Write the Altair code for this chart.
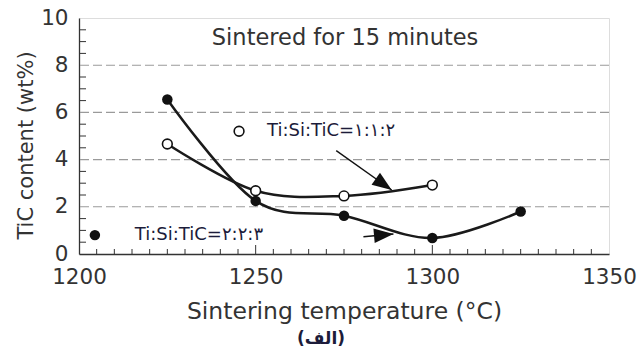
import altair as alt
import pandas as pd

# ---- data ----
temps_open = [1225, 1250, 1275, 1300]
tic_open = [4.66, 2.68, 2.46, 2.92]
temps_filled = [1225, 1250, 1275, 1300, 1325]
tic_filled = [6.55, 2.25, 1.62, 0.68, 1.80]

x_tick_labels = [1200, 1250, 1300, 1350]
y_tick_labels = [0, 2, 4, 6, 8, 10]
grid_values = [2, 4, 6, 8]
x_minor = [v for v in range(1205, 1350, 5) if v % 50 != 0]
x_major = [1250, 1300]
y_minor = [i * 0.5 for i in range(1, 20) if i % 4 != 0]

title_text = "Sintered for 15 minutes"
label_open = "Ti:Si:TiC=\u0661:\u0661:\u0662"
label_filled = "Ti:Si:TiC=\u0662:\u0662:\u0663"
x_title = "Sintering temperature (°C)"
y_title = "TiC content (wt%)"
caption = "(الف)"

# legend marker / text anchors and arrows (data units)
legend_open = (1245.3, 5.2)
legend_filled = (1204.5, 0.8)
text_open = (1253.2, 5.2)
text_filled = (1215.8, 0.8)
arrows_x = [1272.8, 1280.5]
arrows_y = [4.38, 0.73]
arrows_x2 = [1288.5, 1289.0]
arrows_y2 = [2.71, 0.85]
arrows_angle = [125.2, 84.9]
title_pos = (1275.3, 8.86)

W, H = 530, 236
FONT = "DejaVu Sans"
TXT = "#333333"
ANN = "#1c1c3a"

xs = alt.Scale(domain=[1200, 1350], nice=False, zero=False)
ys = alt.Scale(domain=[0, 10], nice=False, zero=True)

x_axis = alt.Axis(values=x_tick_labels, format="d", title=x_title, ticks=False, tickSize=0,
                  grid=False, labelPadding=12, labelFontSize=21.5, labelFont=FONT,
                  labelColor=TXT, titleFont=FONT, titleFontSize=23.5,
                  titleFontWeight="normal", titleColor=TXT, titleY=45,
                  domainColor="#333333", domainWidth=1.3, labelFlush=False)
y_axis = alt.Axis(values=y_tick_labels, format="d", title=y_title, ticks=False, tickSize=0,
                  grid=False, labelPadding=11, labelFontSize=21.5, labelFont=FONT,
                  labelColor=TXT, titleFont=FONT, titleFontSize=21,
                  titleFontWeight="normal", titleColor=TXT, titleX=-42.5,
                  titleY=127, domainColor="#333333", domainWidth=1.3)

X = lambda f="T": alt.X(f + ":Q", scale=xs, axis=x_axis)
Y = lambda f="C": alt.Y(f + ":Q", scale=ys, axis=y_axis)

series = pd.DataFrame({
    "T": temps_open + temps_filled,
    "C": tic_open + tic_filled,
    "s": ["open"] * len(temps_open) + ["filled"] * len(temps_filled),
})
open_df = pd.DataFrame({"T": temps_open, "C": tic_open})
filled_df = pd.DataFrame({"T": temps_filled, "C": tic_filled})

grid = alt.Chart(pd.DataFrame({"C": grid_values})).mark_rule(
    color="#9a9a9a", strokeDash=[9, 4], strokeWidth=1.1).encode(y=Y())

xt_minor = alt.Chart(pd.DataFrame({"T": x_minor})).mark_rule(
    color="#333333", strokeWidth=1).encode(x=X(), y=alt.value(H), y2=alt.value(H - 5))
xt_major = alt.Chart(pd.DataFrame({"T": x_major})).mark_rule(
    color="#333333", strokeWidth=1).encode(x=X(), y=alt.value(H), y2=alt.value(H - 9))
yt_minor = alt.Chart(pd.DataFrame({"C": y_minor})).mark_rule(
    color="#333333", strokeWidth=1).encode(y=Y(), x=alt.value(0), x2=alt.value(7))

lines = alt.Chart(series).mark_line(
    interpolate="cardinal", color="#1a1a1a", strokeWidth=2.5).encode(
    x=X(), y=Y(), detail="s:N")

pts_filled = alt.Chart(filled_df).mark_point(
    shape="circle", filled=True, color="#111111", size=110, opacity=1).encode(x=X(), y=Y())
pts_open = alt.Chart(open_df).mark_point(
    shape="circle", filled=True, fill="white", stroke="#111111", strokeWidth=1.6,
    size=95, opacity=1).encode(x=X(), y=Y())

leg_open = alt.Chart(pd.DataFrame({"T": [legend_open[0]], "C": [legend_open[1]]})).mark_point(
    shape="circle", filled=True, fill="white", stroke="#111111", strokeWidth=1.6,
    size=95, opacity=1).encode(x=X(), y=Y())
leg_filled = alt.Chart(pd.DataFrame({"T": [legend_filled[0]], "C": [legend_filled[1]]})).mark_point(
    shape="circle", filled=True, color="#111111", size=110, opacity=1).encode(x=X(), y=Y())

ann = pd.DataFrame({
    "T": [text_open[0], text_filled[0]],
    "C": [text_open[1], text_filled[1]],
    "label": [label_open, label_filled],
})
ann_text = alt.Chart(ann).mark_text(
    align="left", baseline="middle", font=FONT, fontSize=18, color=ANN).encode(
    x=X(), y=Y(), text="label:N")

arr = pd.DataFrame({"T": arrows_x, "C": arrows_y, "T2": arrows_x2, "C2": arrows_y2,
                    "ang": arrows_angle})
arr_shaft = alt.Chart(arr).mark_rule(color="#111111", strokeWidth=1.4).encode(
    x=X(), y=Y(), x2="T2:Q", y2="C2:Q")
arr_head = alt.Chart(arr).mark_point(
    shape="M0,0L0.75,2L-0.75,2Z", filled=True, color="#111111", size=380, opacity=1).encode(
    x=alt.X("T2:Q", scale=xs, axis=x_axis), y=alt.Y("C2:Q", scale=ys, axis=y_axis),
    angle=alt.Angle("ang:Q", scale=None))

title = alt.Chart(pd.DataFrame({"T": [title_pos[0]], "C": [title_pos[1]], "t": [title_text]})).mark_text(
    align="center", baseline="alphabetic", font=FONT, fontSize=22.5, color=TXT).encode(
    x=X(), y=Y(), text="t:N")

cap = alt.Chart(pd.DataFrame({"t": [caption]})).mark_text(
    align="center", baseline="middle", font=FONT, fontSize=17, fontWeight="bold",
    color=ANN).encode(x=alt.value(242), y=alt.value(321), text="t:N")

chart = alt.layer(
    grid, xt_minor, xt_major, yt_minor, lines, pts_filled, pts_open,
    leg_open, leg_filled, ann_text, arr_shaft, arr_head, title, cap
).properties(
    width=W, height=H,
    padding={"left": 79, "top": 18, "right": 32, "bottom": 95},
    autosize=alt.AutoSizeParams(type="none"),
).configure_view(stroke="#333333", strokeWidth=1.3).configure(background="white")

chart.save("out.html", embed_options={"renderer": "svg", "actions": False})
